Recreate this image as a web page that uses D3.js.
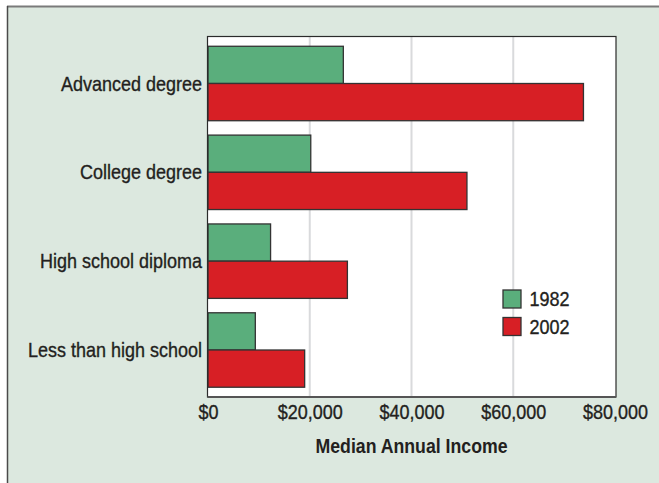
<!DOCTYPE html>
<html>
<head>
<meta charset="utf-8">
<script src="https://cdn.jsdelivr.net/npm/d3@7/dist/d3.min.js"></script>
<style>
  html, body { margin: 0; padding: 0; background: #ffffff; }
  svg { display: block; }
  text { font-family: "Liberation Sans", Arial, sans-serif; fill: #231f20; }
  text.label { stroke: #231f20; stroke-width: 0.35px; }
</style>
</head>
<body>
<script>
// Median annual income by education level, 1982 vs 2002
const categories = ["Advanced degree", "College degree", "High school diploma", "Less than high school"];
const seriesNames = ["1982", "2002"];
const income1982 = [26600, 20200, 12300, 9300];
const income2002 = [73800, 50900, 27400, 19000];
const tickValues = [0, 20000, 40000, 60000, 80000];
const tickLabels = ["$0", "$20,000", "$40,000", "$60,000", "$80,000"];
const axisTitle = "Median Annual Income";

const W = 659, H = 483;
const colors = { "1982": "#5aae7c", "2002": "#d71f25" };
// narrow, tall lettering: regular face squeezed horizontally
const squeeze = "scale(0.9,1)";

const svg = d3.select("body").append("svg").attr("width", W).attr("height", H);

// outer panel
svg.append("rect").attr("x", 0).attr("y", 0).attr("width", W).attr("height", H).attr("fill", "#ffffff");
svg.append("rect").attr("x", 7).attr("y", 6).attr("width", W).attr("height", H)
  .attr("fill", "#dce8df");
svg.append("line").attr("x1", 7).attr("x2", W).attr("y1", 6.5).attr("y2", 6.5)
  .attr("stroke", "#7a7a7a").attr("stroke-width", 2);
svg.append("line").attr("x1", 7.5).attr("x2", 7.5).attr("y1", 6).attr("y2", H)
  .attr("stroke", "#4a4a4a").attr("stroke-width", 1.5);

const plot = { left: 207.5, right: 616, top: 36.5, bottom: 397 };

const x = d3.scaleLinear().domain([0, 80000]).range([208, 615]);
const y = d3.scaleBand().domain(categories).range([plot.top, plot.bottom])
  .paddingInner(0.162).paddingOuter(0.11);
const ySub = d3.scaleBand().domain(seriesNames).range([0, y.bandwidth()]);

// plot background
svg.append("rect").attr("x", plot.left).attr("y", plot.top)
  .attr("width", plot.right - plot.left).attr("height", plot.bottom - plot.top)
  .attr("fill", "#ffffff");

// vertical gridlines
svg.append("g").selectAll("line").data(tickValues.slice(1, -1)).join("line")
  .attr("x1", d => x(d)).attr("x2", d => x(d))
  .attr("y1", plot.top).attr("y2", plot.bottom)
  .attr("stroke", "#d9dadc").attr("stroke-width", 2);

// bars
const rows = categories.map((c, i) => ({ cat: c, values: [
  { key: "1982", v: income1982[i] }, { key: "2002", v: income2002[i] }
]}));
const groups = svg.append("g").selectAll("g").data(rows).join("g")
  .attr("transform", d => `translate(0,${y(d.cat)})`);
groups.selectAll("rect").data(d => d.values).join("rect")
  .attr("x", x(0)).attr("y", d => ySub(d.key))
  .attr("width", d => x(d.v) - x(0)).attr("height", ySub.bandwidth())
  .attr("fill", d => colors[d.key])
  .attr("stroke", "#333333").attr("stroke-width", 1.3);

// plot frame
svg.append("rect").attr("x", plot.left).attr("y", plot.top)
  .attr("width", plot.right - plot.left).attr("height", plot.bottom - plot.top)
  .attr("fill", "none").attr("stroke", "#2b2b2b").attr("stroke-width", 1.2);
svg.append("line").attr("x1", plot.left).attr("x2", plot.right)
  .attr("y1", plot.bottom).attr("y2", plot.bottom)
  .attr("stroke", "#555555").attr("stroke-width", 2);

// x axis labels
const xAxis = d3.axisBottom(x).tickValues(tickValues)
  .tickFormat((d, i) => tickLabels[i]).tickSize(0).tickPadding(0);
const gx = svg.append("g").attr("transform", `translate(0,${plot.bottom})`).call(xAxis);
gx.select(".domain").remove();
gx.selectAll("text").attr("class", "label").attr("dy", null).attr("y", 22).attr("transform", squeeze)
  .style("font-size", "20px").attr("fill", "#231f20");

// y axis labels
const yAxis = d3.axisLeft(y).tickSize(0).tickPadding(0);
const gy = svg.append("g").attr("transform", `translate(202,0)`).call(yAxis);
gy.select(".domain").remove();
gy.selectAll("text").attr("class", "label").attr("dy", "0.35em").attr("transform", squeeze)
  .style("font-size", "20px").attr("fill", "#231f20");
svg.selectAll(".tick text").attr("font-family", null);

// axis title
svg.append("g").attr("transform", `translate(${(x(0) + x(80000)) / 2},452.5)`)
  .append("text").attr("text-anchor", "middle").attr("transform", "scale(0.885,1)")
  .style("font-size", "20px").style("font-weight", "bold")
  .text(axisTitle);

// legend
const legend = svg.append("g").attr("transform", "translate(503,290)");
const li = legend.selectAll("g").data(seriesNames).join("g")
  .attr("transform", (d, i) => `translate(0,${i * 27.5})`);
li.append("rect").attr("width", 18).attr("height", 18)
  .attr("fill", d => colors[d]).attr("stroke", "#333333").attr("stroke-width", 1.3);
li.append("g").attr("transform", "translate(26.5,9)")
  .append("text").attr("class", "label").attr("dy", "0.36em").attr("transform", squeeze)
  .style("font-size", "20px").text(d => d);
</script>
</body>
</html>
